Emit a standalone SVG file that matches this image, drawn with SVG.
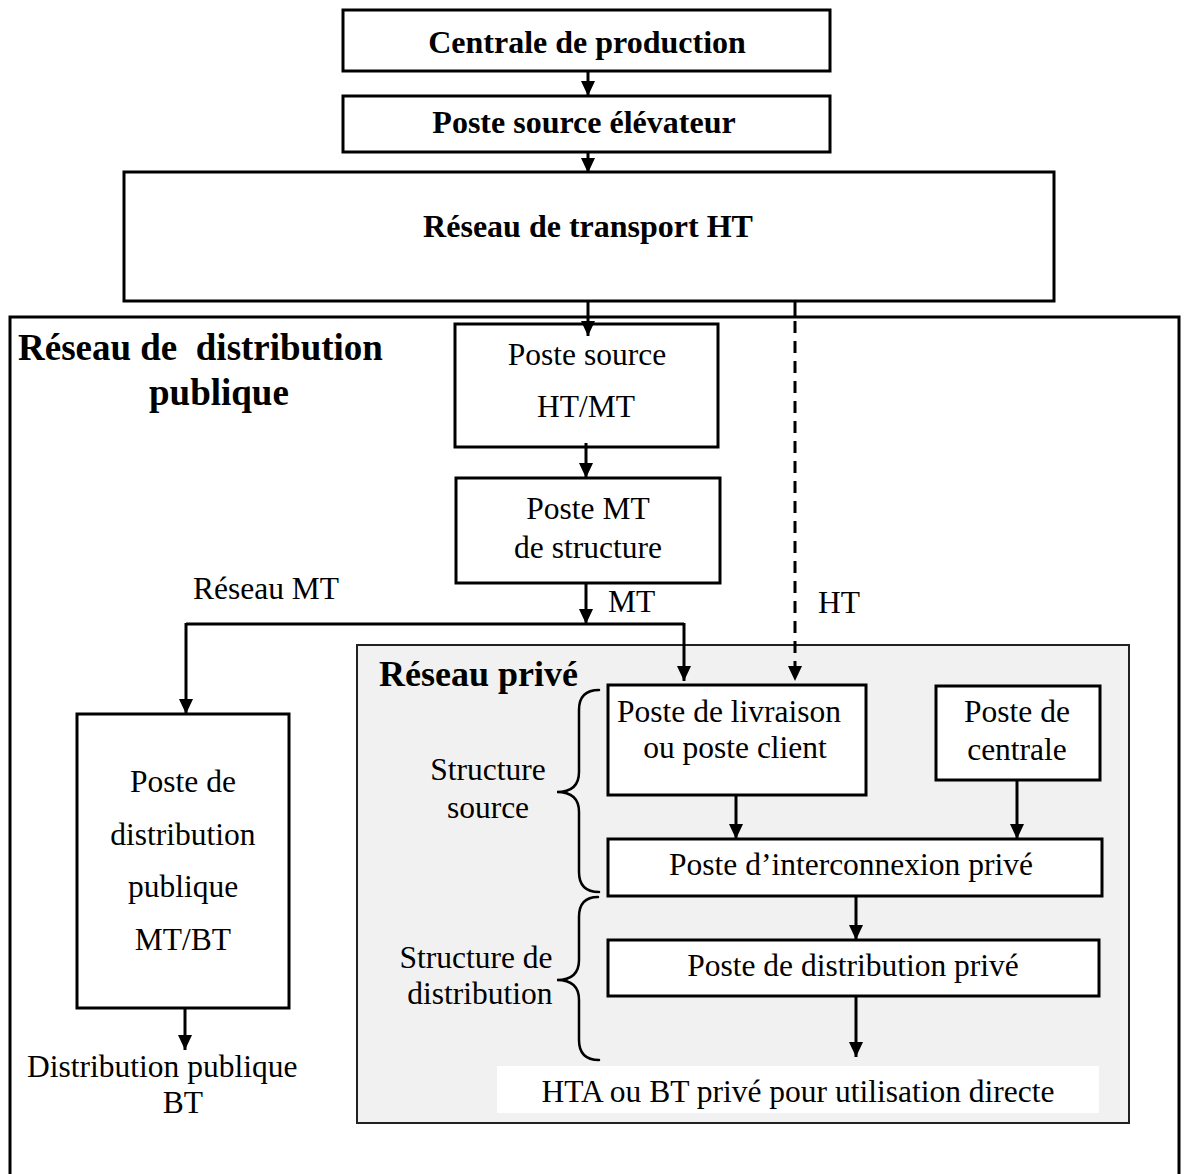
<svg xmlns="http://www.w3.org/2000/svg" width="1184" height="1174" viewBox="0 0 1184 1174">
  <defs>
    <marker id="arrow" markerUnits="userSpaceOnUse" markerWidth="15" markerHeight="14" refX="15" refY="7" orient="auto">
      <path d="M0,0 L15,7 L0,14 z" fill="#000"/>
    </marker>
    <style>
      .box { fill: #fff; stroke: #000; stroke-width: 3; }
      .zone { fill: none; stroke: #000; stroke-width: 3; }
      .private { fill: #f1f1f1; stroke: #222; stroke-width: 2; }
      .wire { fill: none; stroke: #000; stroke-width: 3; }
      .arrow { fill: none; stroke: #000; stroke-width: 3; marker-end: url(#arrow); }
      .dash { stroke-dasharray: 12 8; }
      .brace { fill: none; stroke: #000; stroke-width: 2.5; stroke-linecap: round; }
      text { font-family: "Liberation Serif", "Times New Roman", serif; fill: #000; }
      .t { font-size: 31.5px; }
      .tb { font-size: 32px; font-weight: bold; }
      .tl { font-size: 37px; font-weight: bold; white-space: pre; }
      .tp { font-size: 36px; font-weight: bold; }
      .c { text-anchor: middle; }
    </style>
  </defs>

  <rect width="1184" height="1174" fill="#fff"/>

  <!-- public distribution network area (open at the bottom) -->
  <g id="zone-distribution-publique">
    <rect class="zone" x="10" y="317" width="1169" height="900"/>
    <text class="tl" x="18" y="360">Réseau de  distribution</text>
    <text class="tl" x="149" y="405">publique</text>
  </g>

  <!-- private network area -->
  <g id="zone-reseau-prive">
    <rect class="private" x="357" y="645" width="772" height="478"/>
    <text class="tp" x="379" y="686">Réseau privé</text>
  </g>

  <g id="centrale-production">
    <rect class="box" x="343" y="10" width="487" height="61"/>
    <text class="tb c" x="587" y="53">Centrale de production</text>
  </g>

  <g id="poste-source-elevateur">
    <rect class="box" x="343" y="96" width="487" height="56"/>
    <text class="tb c" x="584" y="133">Poste source élévateur</text>
  </g>

  <g id="reseau-transport-ht">
    <rect class="box" x="124" y="172" width="930" height="129"/>
    <text class="tb c" x="588" y="237">Réseau de transport HT</text>
  </g>

  <g id="poste-source-ht-mt">
    <rect class="box" x="455" y="324" width="263" height="123"/>
    <text class="t c" x="587" y="365">Poste source</text>
    <text class="t c" x="586" y="417">HT/MT</text>
  </g>

  <g id="poste-mt-structure">
    <rect class="box" x="456" y="478" width="264" height="105"/>
    <text class="t c" x="588" y="519">Poste MT</text>
    <text class="t c" x="588" y="558">de structure</text>
  </g>

  <g id="poste-distribution-publique">
    <rect class="box" x="77" y="714" width="212" height="294"/>
    <text class="t c" x="183" y="792">Poste de</text>
    <text class="t c" x="183" y="845">distribution</text>
    <text class="t c" x="183" y="897">publique</text>
    <text class="t c" x="183" y="950">MT/BT</text>
  </g>

  <g id="distribution-publique-bt">
    <text class="t" x="27" y="1077">Distribution publique</text>
    <text class="t c" x="183" y="1113">BT</text>
  </g>

  <g id="poste-livraison">
    <rect class="box" x="608" y="685" width="258" height="110"/>
    <text class="t c" x="729" y="722">Poste de livraison</text>
    <text class="t c" x="735" y="758">ou poste client</text>
  </g>

  <g id="poste-centrale">
    <rect class="box" x="936" y="686" width="164" height="94"/>
    <text class="t c" x="1017" y="722">Poste de</text>
    <text class="t c" x="1017" y="760">centrale</text>
  </g>

  <g id="poste-interconnexion">
    <rect class="box" x="608" y="839" width="494" height="57"/>
    <text class="t c" x="851" y="875">Poste d’interconnexion privé</text>
  </g>

  <g id="poste-distribution-prive">
    <rect class="box" x="608" y="940" width="491" height="56"/>
    <text class="t c" x="853" y="976">Poste de distribution privé</text>
  </g>

  <g id="utilisation-directe">
    <rect x="497" y="1066" width="602" height="47" fill="#fff"/>
    <text class="t c" x="798" y="1102">HTA ou BT privé pour utilisation directe</text>
  </g>

  <!-- structure braces and their labels -->
  <g id="structure-source">
    <path class="brace" d="M599,690 Q579,690 579,710 V772 Q579,792 557,792 Q579,792 579,812 V872 Q579,892 599,892"/>
    <text class="t c" x="488" y="780">Structure</text>
    <text class="t c" x="488" y="818">source</text>
  </g>

  <g id="structure-distribution">
    <path class="brace" d="M598,897 Q579,897 579,917 V960 Q579,980 557,980 Q579,980 579,1000 V1040 Q579,1060 599,1060"/>
    <text class="t c" x="476" y="968">Structure de</text>
    <text class="t c" x="480" y="1004">distribution</text>
  </g>

  <g id="connectors">
    <line class="arrow" x1="588" y1="71" x2="588" y2="96"/>
    <line class="arrow" x1="588" y1="152" x2="588" y2="173"/>
    <line class="arrow" x1="588" y1="301" x2="588" y2="336"/>
    <line class="arrow" x1="586" y1="443" x2="586" y2="478"/>
    <line class="arrow" x1="586" y1="583" x2="586" y2="624"/>
    <line class="wire" x1="186" y1="624" x2="684" y2="624"/>
    <line class="arrow" x1="186" y1="623" x2="186" y2="714"/>
    <line class="arrow" x1="684" y1="623" x2="684" y2="681"/>
    <line class="wire" x1="795" y1="301" x2="795" y2="318"/>
    <line class="arrow dash" x1="795" y1="321" x2="795" y2="681"/>
    <line class="arrow" x1="185" y1="1008" x2="185" y2="1050"/>
    <line class="arrow" x1="736" y1="795" x2="736" y2="839"/>
    <line class="arrow" x1="1017" y1="780" x2="1017" y2="839"/>
    <line class="arrow" x1="856" y1="896" x2="856" y2="940"/>
    <line class="arrow" x1="856" y1="996" x2="856" y2="1057"/>
    <text class="t" x="608" y="612">MT</text>
    <text class="t" x="818" y="613">HT</text>
    <text class="t" x="193" y="599">Réseau MT</text>
  </g>
</svg>
